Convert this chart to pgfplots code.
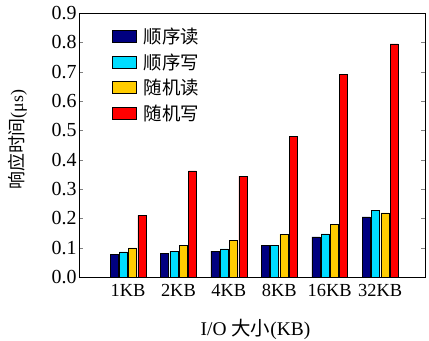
\documentclass[border=0pt]{standalone}
\usepackage{pgfplots}
\pgfplotsset{compat=1.18}
\usepackage{fontspec}
\setmainfont{Liberation Serif}
\newfontfamily\cjk{Noto Sans CJK SC}
\definecolor{cNavy}{RGB}{0,0,128}
\definecolor{cCyan}{RGB}{0,221,255}
\definecolor{cYellow}{RGB}{255,204,0}
\definecolor{cRed}{RGB}{255,0,0}
\begin{document}
\begin{tikzpicture}
\useasboundingbox (-79bp,-64bp) rectangle (350bp,277bp);
\begin{axis}[
  at={(0,0)}, anchor=south west,
  scale only axis, width=346bp, height=264bp,
  ybar=1.3bp, bar width=8bp,
  xmin=0.028, xmax=6.89,
  ymin=0, ymax=0.9,
  xtick={1,2,3,4,5,6},
  xticklabels={1KB,2KB,4KB,8KB,16KB,32KB},
  major x tick style={draw=none},
  ytick={0,0.1,...,0.9},
  ytick pos=both, tick align=inside,
  major tick length=4bp,
  axis line style={line width=1pt},
  yticklabel style={/pgf/number format/fixed,/pgf/number format/precision=1,/pgf/number format/fixed zerofill, font=\fontsize{20}{22}\selectfont, xshift=1bp},
  /pgf/number format/assume math mode=true,
  xticklabel style={font=\fontsize{18.5}{21}\selectfont, yshift=-4bp},
  ylabel={{\cjk 响应时间}(μs)},
  ylabel style={at={(axis description cs:-0.178,0.52)}, anchor=center, rotate=0, font=\fontsize{18}{20}\selectfont},
  xlabel={I/O {\cjk 大小}(KB)},
  xlabel style={at={(axis description cs:0.51,-0.2)}, anchor=center, font=\fontsize{19.5}{22}\selectfont},
  legend cell align=left,
  legend style={draw=none, fill=none, at={(axis description cs:0.093,0.955)}, anchor=north west, font=\fontsize{18.5}{20}\selectfont\cjk, row sep=4.5bp, column sep=5bp, inner sep=1bp},
  legend image code/.code={\draw[#1,draw=black] (0bp,-6bp) rectangle (24bp,6bp);},
]
\addplot[fill=cNavy, draw=black] coordinates {(1,0.077) (2,0.080) (3,0.088) (4,0.107) (5,0.137) (6,0.205)};
\addplot[fill=cCyan, draw=black] coordinates {(1,0.086) (2,0.088) (3,0.096) (4,0.109) (5,0.147) (6,0.228)};
\addplot[fill=cYellow, draw=black] coordinates {(1,0.099) (2,0.107) (3,0.126) (4,0.145) (5,0.180) (6,0.219)};
\addplot[fill=cRed, draw=black] coordinates {(1,0.210) (2,0.362) (3,0.344) (4,0.480) (5,0.692) (6,0.795)};
\legend{顺序读,顺序写,随机读,随机写}
\end{axis}
\end{tikzpicture}
\end{document}
